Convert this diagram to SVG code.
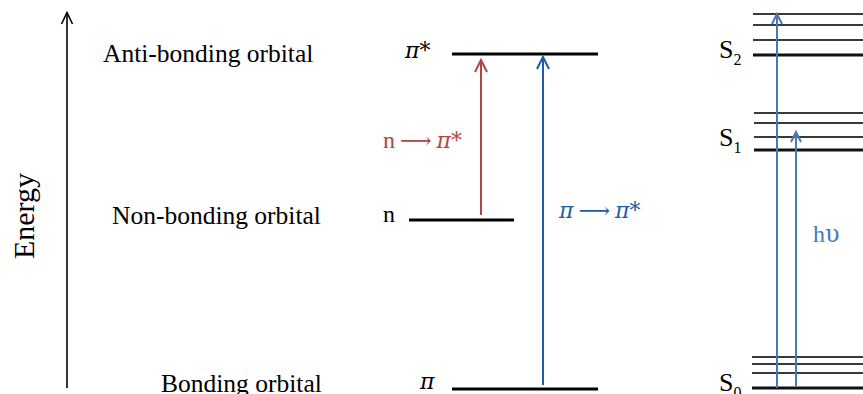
<svg xmlns="http://www.w3.org/2000/svg" width="863" height="394" viewBox="0 0 863 394">
<defs>
<style>
text{font-family:"Liberation Serif","DejaVu Serif",serif;fill:#000}
.lbl{font-size:25.5px}
.sym{font-size:22px;font-family:"DejaVu Serif","Liberation Serif",serif;font-style:italic}
.gr{font-family:"DejaVu Serif","DejaVu Sans",serif}
.it{font-style:italic}
.lvl{stroke:#000;stroke-width:3;fill:none}
.thin{stroke:#3a3a3a;stroke-width:2;fill:none}
.thick{stroke:#111;stroke-width:3;fill:none}
.red{stroke:#b04646;stroke-width:2;fill:none}
.blue{stroke:#1a5ea8;stroke-width:2;fill:none}
.lblue{stroke:#4a78b5;stroke-width:2;fill:none}
</style>
</defs>
<rect width="863" height="394" fill="#fff"/>
<g id="axis">
<line x1="67" y1="388" x2="67" y2="13" stroke="#000" stroke-width="1.6"/>
<polyline points="61.5,24 67,12.5 72.5,24" stroke="#000" stroke-width="1.6" fill="none"/>
<text x="34" y="216" font-size="30" text-anchor="middle" transform="rotate(-90 34 216)">Energy</text>
</g>
<g id="antibonding">
<text class="lbl" x="103" y="62">Anti-bonding orbital</text>
<text class="sym" x="405" y="58">π*</text>
<line class="lvl" x1="452" y1="54" x2="598" y2="54"/>
</g>
<g id="nonbonding">
<text class="lbl" x="112" y="224">Non-bonding orbital</text>
<text x="383" y="222" font-size="24">n</text>
<line class="lvl" x1="409" y1="220" x2="514" y2="220"/>
</g>
<g id="bonding">
<text class="lbl" x="161" y="392">Bonding orbital</text>
<text class="sym" x="420" y="389">π</text>
<line class="lvl" x1="452" y1="389" x2="598" y2="389"/>
</g>
<g id="S2">
<text x="719" y="58" font-size="26">S<tspan font-size="16" dy="7">2</tspan></text>
<line class="thin" x1="753" y1="14" x2="863" y2="14"/>
<line class="thin" x1="753" y1="25" x2="863" y2="25"/>
<line class="thin" x1="753" y1="40" x2="863" y2="40"/>
<line class="thick" x1="753" y1="55" x2="863" y2="55"/>
</g>
<g id="S1">
<text x="719" y="146" font-size="26">S<tspan font-size="16" dy="7">1</tspan></text>
<line class="thin" x1="754" y1="113" x2="863" y2="113"/>
<line class="thin" x1="754" y1="123" x2="863" y2="123"/>
<line class="thin" x1="754" y1="137" x2="863" y2="137"/>
<line class="thick" x1="754" y1="150" x2="863" y2="150"/>
</g>
<g id="S0">
<text x="719" y="391" font-size="26">S<tspan font-size="16" dy="7">0</tspan></text>
<line class="thin" x1="752" y1="357" x2="863" y2="357"/>
<line class="thin" x1="752" y1="364" x2="863" y2="364"/>
<line class="thin" x1="752" y1="373" x2="863" y2="373"/>
<line class="thick" x1="752" y1="388" x2="863" y2="388"/>
</g>
<g id="connectors">
<line class="red" x1="481" y1="215" x2="481" y2="61"/>
<polyline class="red" points="475,72 481,60 487,72"/>
<text x="383" y="148" font-size="22" style="fill:#b04646"><tspan font-size="24">n</tspan><tspan class="gr" dx="5">⟶</tspan><tspan class="gr it" dx="5">π*</tspan></text>
<line class="blue" x1="543" y1="385" x2="543" y2="58"/>
<polyline class="blue" points="537,69 543,57 549,69"/>
<text x="559" y="218" font-size="22" class="gr" style="fill:#1a5ea8"><tspan class="it">π</tspan><tspan dx="5">⟶</tspan><tspan class="it" dx="5">π*</tspan></text>
<line class="lblue" x1="777" y1="388" x2="777" y2="15"/>
<polyline class="lblue" points="772,24 777,14 782,24"/>
<line class="lblue" x1="796" y1="386" x2="796" y2="133"/>
<polyline class="lblue" points="791,142 796,132 801,142"/>
<text x="813" y="242" font-size="24" style="fill:#4a78b5">h<tspan class="gr">υ</tspan></text>
</g>
</svg>
